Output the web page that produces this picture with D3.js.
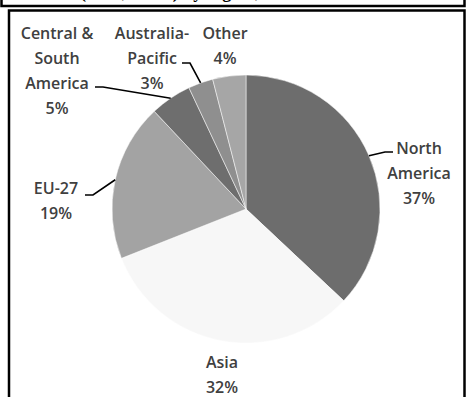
<!DOCTYPE html>
<html>
<head>
<meta charset="utf-8">
<script src="https://cdn.jsdelivr.net/npm/d3@7"></script>
<style>
  html, body { margin: 0; padding: 0; background: #fff; }
  svg { display: block; }
  .label { font-family: "Open Sans", sans-serif; font-size: 16px; font-weight: 600; fill: #404040; }
</style>
</head>
<body>
<div id="app"></div>
<script>
const WIDTH = 467;
const HEIGHT = 397;

// data
const regions = ["North America", "Asia", "EU-27", "Central & South America", "Australia-Pacific", "Other"];
const shares = [37, 32, 19, 5, 3, 4];
const labelLines = [
  ["North", "America", "37%"],
  ["Asia", "32%"],
  ["EU-27", "19%"],
  ["Central &", "South", "America", "5%"],
  ["Australia-", "Pacific", "3%"],
  ["Other", "4%"],
];

const sliceColors = ["#6d6d6d", "#f7f7f7", "#a3a3a3", "#6e6e6e", "#8f8f8f", "#a6a6a6"];

// where each label block sits, and which line the leader line hooks on to
const labelLayout = {
  "North America": { x: 419, y: 154, hook: [393, 152], side: -1 },
  "Asia": { x: 222, y: 368 },
  "EU-27": { x: 56, y: 194, hook: [85, 195], side: 1 },
  "Central & South America": { x: 57, y: 39, hook: [95, 87], side: 1 },
  "Australia-Pacific": { x: 152, y: 39, hook: [182, 63], side: 1 },
  "Other": { x: 225, y: 39 },
};

const CX = 246, CY = 209, R = 134;
const LINE_H = 25;

const svg = d3.select("#app")
  .append("svg")
  .attr("width", WIDTH)
  .attr("height", HEIGHT);

// frames: bottom of the box above (its title is cropped off) and the chart box
svg.append("text")
  .attr("x", 80).attr("y", -2)
  .style("font-family", "Liberation Serif, serif")
  .style("font-size", "18px")
  .style("font-weight", "bold")
  .text("(2008, share) by region,");

svg.append("rect")
  .attr("x", 1.5).attr("y", -20)
  .attr("width", 463).attr("height", 26)
  .attr("fill", "none").attr("stroke", "#000").attr("stroke-width", 2.5);

svg.append("rect")
  .attr("x", 9).attr("y", 10.5)
  .attr("width", 455.5).attr("height", 420)
  .attr("fill", "none").attr("stroke", "#000").attr("stroke-width", 2.5);

const data = regions.map((name, i) => ({ name, value: shares[i], color: sliceColors[i], lines: labelLines[i] }));

const pie = d3.pie().sort(null).value((d) => d.value);
const arcs = pie(data);
const arc = d3.arc().innerRadius(0).outerRadius(R);
const edge = d3.arc().innerRadius(R).outerRadius(R);

const g = svg.append("g").attr("transform", `translate(${CX},${CY})`);

g.selectAll("path.slice")
  .data(arcs)
  .join("path")
  .attr("class", "slice")
  .attr("d", arc)
  .attr("fill", (d) => d.data.color)
  .attr("stroke", "#fff")
  .attr("stroke-width", 0.5);

// leader lines
const leaders = arcs.filter((d) => labelLayout[d.data.name].hook);
svg.selectAll("path.leader")
  .data(leaders)
  .join("path")
  .attr("class", "leader")
  .attr("fill", "none")
  .attr("stroke", "#000")
  .attr("stroke-width", 1.6)
  .attr("d", (d) => {
    const L = labelLayout[d.data.name];
    const c = edge.centroid(d);
    const p = [c[0] + CX, c[1] + CY];
    const h = [L.hook[0] + 8 * L.side, L.hook[1]];
    return d3.line()([L.hook, h, p]);
  });

// labels
const labels = svg.selectAll("text.label")
  .data(arcs)
  .join("text")
  .attr("class", "label")
  .attr("text-anchor", "middle");

labels.selectAll("tspan")
  .data((d) => d.data.lines.map((t, i) => ({ t, i, L: labelLayout[d.data.name] })))
  .join("tspan")
  .attr("x", (d) => d.L.x)
  .attr("y", (d) => d.L.y + d.i * LINE_H)
  .text((d) => d.t);
</script>
</body>
</html>
